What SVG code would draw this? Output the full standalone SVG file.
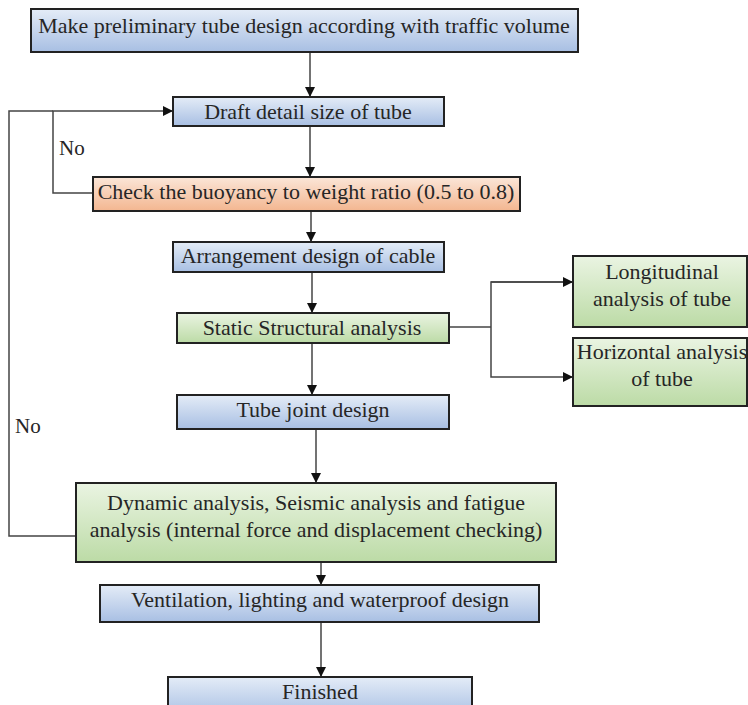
<svg xmlns="http://www.w3.org/2000/svg" width="748" height="705" viewBox="0 0 748 705">
<defs>
<linearGradient id="gb" x1="0" y1="0" x2="0" y2="1"><stop offset="0" stop-color="#e4ecf7"/><stop offset="1" stop-color="#a8bfe3"/></linearGradient>
<linearGradient id="gg" x1="0" y1="0" x2="0" y2="1"><stop offset="0" stop-color="#eaf4e2"/><stop offset="1" stop-color="#bcdba6"/></linearGradient>
<linearGradient id="go" x1="0" y1="0" x2="0" y2="1"><stop offset="0" stop-color="#fbe6d8"/><stop offset="1" stop-color="#f3b690"/></linearGradient>
<marker id="ah" viewBox="0 0 10 10" refX="10" refY="5" markerWidth="10" markerHeight="10" markerUnits="userSpaceOnUse" orient="auto"><path d="M0,0 L10,5 L0,10 z" fill="#111"/></marker>
</defs>
<style>
.box{stroke:#222;stroke-width:2}
.b{fill:url(#gb)}.g{fill:url(#gg)}.o{fill:url(#go)}
text{font-family:"Liberation Serif","Times New Roman",serif;font-size:22px;fill:#262626;text-anchor:middle}
.lbl{text-anchor:start;font-size:21px}
.c{fill:none;stroke:#444;stroke-width:1.5}
</style>
<g id="connectors">
<line class="c" x1="310" y1="52" x2="310" y2="97" marker-end="url(#ah)"/>
<line class="c" x1="310" y1="126" x2="310" y2="177" marker-end="url(#ah)"/>
<line class="c" x1="311" y1="211" x2="311" y2="242" marker-end="url(#ah)"/>
<line class="c" x1="312" y1="272" x2="312" y2="313" marker-end="url(#ah)"/>
<line class="c" x1="312" y1="343" x2="312" y2="395" marker-end="url(#ah)"/>
<line class="c" x1="316" y1="429" x2="316" y2="483" marker-end="url(#ah)"/>
<line class="c" x1="321" y1="562" x2="321" y2="585" marker-end="url(#ah)"/>
<line class="c" x1="321" y1="622" x2="321" y2="677" marker-end="url(#ah)"/>
<polyline class="c" points="93,193 53,193 53,111 173,111" marker-end="url(#ah)"/>
<polyline class="c" points="76,536 9,536 9,111 53,111"/>
<polyline class="c" points="449,327 491,327"/>
<polyline class="c" points="573,282 491,282 491,377 573,377" marker-end="url(#ah)"/>
<line class="c" x1="491" y1="282" x2="573" y2="282" marker-end="url(#ah)"/>
<text class="lbl" x="59" y="155">No</text>
<text class="lbl" x="15" y="433">No</text>
</g>
<g id="n1"><rect class="box b" x="31" y="9" width="547" height="43"/><text x="304" y="33">Make preliminary tube design according with traffic volume</text></g>
<g id="n2"><rect class="box b" x="173" y="97" width="271" height="29"/><text x="308" y="119">Draft detail size of tube</text></g>
<g id="n3"><rect class="box o" x="93" y="177" width="427" height="34"/><text x="306" y="199">Check the buoyancy to weight ratio (0.5 to 0.8)</text></g>
<g id="n4"><rect class="box b" x="173" y="242" width="271" height="30"/><text x="308" y="263">Arrangement design of cable</text></g>
<g id="n5"><rect class="box g" x="177" y="313" width="272" height="30"/><text x="312" y="335">Static Structural analysis</text></g>
<g id="n6"><rect class="box g" x="573" y="256" width="174" height="71"/><text x="662" y="279">Longitudinal</text><text x="662" y="306">analysis of tube</text></g>
<g id="n7"><rect class="box g" x="573" y="338" width="174" height="68"/><text x="662" y="359">Horizontal analysis</text><text x="662" y="386">of tube</text></g>
<g id="n8"><rect class="box b" x="177" y="395" width="272" height="34"/><text x="313" y="417">Tube joint design</text></g>
<g id="n9"><rect class="box g" x="76" y="483" width="480" height="79"/><text x="316" y="510">Dynamic analysis, Seismic analysis and fatigue</text><text x="316" y="537">analysis (internal force and displacement checking)</text></g>
<g id="n10"><rect class="box b" x="100" y="585" width="439" height="37"/><text x="320" y="607">Ventilation, lighting and waterproof design</text></g>
<g id="n11"><rect class="box b" x="168" y="677" width="304" height="40"/><text x="320" y="699">Finished</text></g>
</svg>
